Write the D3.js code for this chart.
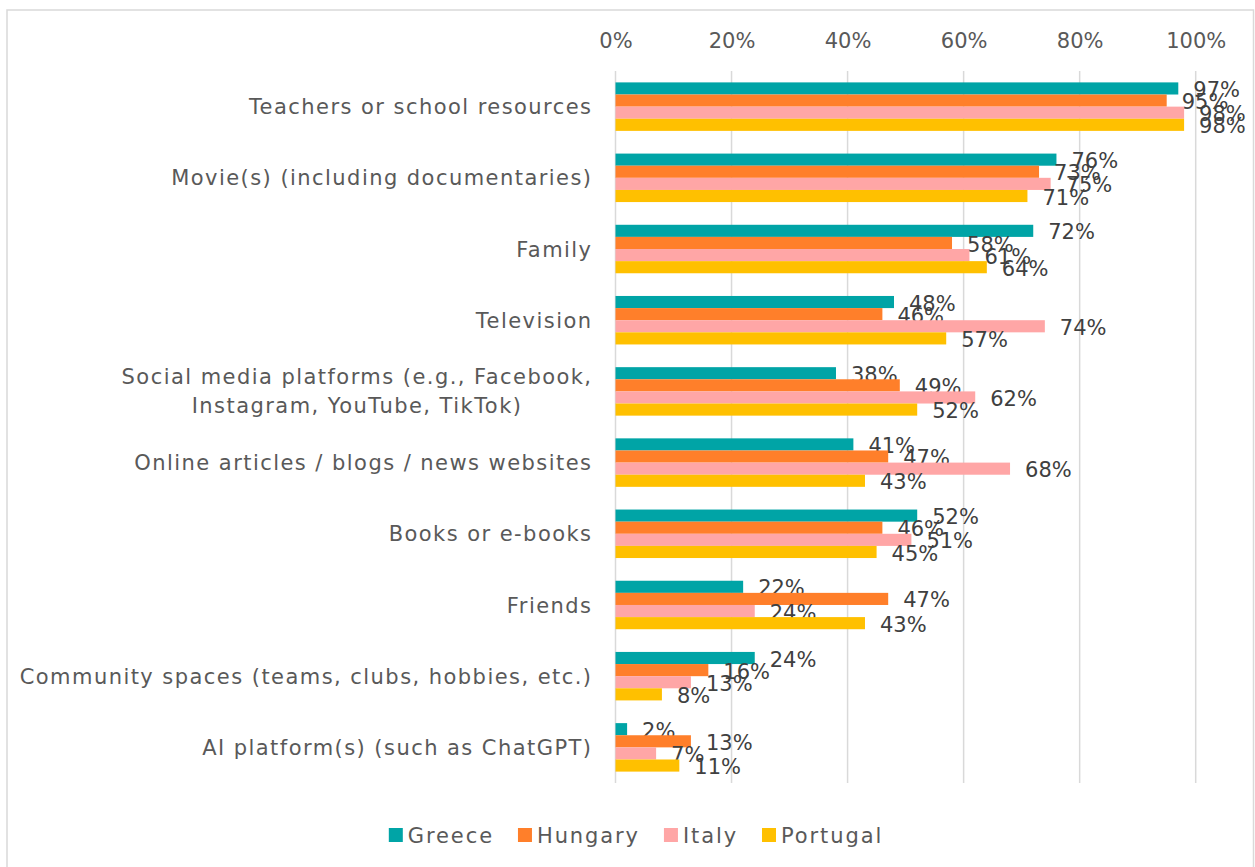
<!DOCTYPE html>
<html>
<head>
<meta charset="utf-8">
<script src="https://cdn.jsdelivr.net/npm/d3@7"></script>
<style>
  html, body { margin: 0; padding: 0; background: #ffffff; }
  svg { display: block; font-family: "DejaVu Sans", sans-serif; }
</style>
</head>
<body>
<svg id="chart" width="1255" height="867"></svg>
<script>
// Information sources, share of respondents per country (%)
const categories = [
  "Teachers or school resources",
  "Movie(s) (including documentaries)",
  "Family",
  "Television",
  "Social media platforms (e.g., Facebook,\nInstagram, YouTube, TikTok)",
  "Online articles / blogs / news websites",
  "Books or e-books",
  "Friends",
  "Community spaces (teams, clubs, hobbies, etc.)",
  "AI platform(s) (such as ChatGPT)"
];
const seriesNames = ["Greece", "Hungary", "Italy", "Portugal"];
const greece   = [97, 76, 72, 48, 38, 41, 52, 22, 24, 2];
const hungary  = [95, 73, 58, 46, 49, 47, 46, 47, 16, 13];
const italy    = [98, 75, 61, 74, 62, 68, 51, 24, 13, 7];
const portugal = [98, 71, 64, 57, 52, 43, 45, 43, 8, 11];
const xTicks = [0, 20, 40, 60, 80, 100];

const seriesValues = [greece, hungary, italy, portugal];
const colors = ["#00A4A6", "#FF7F2A", "#FFA6A6", "#FFC000"];

const svg = d3.select("#chart");
const W = 1255, H = 867;

// outer chart frame
svg.append("rect")
  .attr("x", 7).attr("y", 10)
  .attr("width", W - 8.5).attr("height", H + 10)
  .attr("fill", "#ffffff")
  .attr("stroke", "#D9D9D9").attr("stroke-width", 1.5);

const x = d3.scaleLinear().domain([0, 100]).range([615.5, 1195.7]);
const y = d3.scaleBand().domain(d3.range(categories.length))
  .range([71, 783]).paddingInner(0.319).paddingOuter(0.16);
const ySeries = d3.scaleBand().domain(d3.range(seriesNames.length))
  .range([0, y.bandwidth()]);

// vertical gridlines
svg.append("g").selectAll("line").data(xTicks).join("line")
  .attr("x1", d => x(d)).attr("x2", d => x(d))
  .attr("y1", 71).attr("y2", 783)
  .attr("stroke", "#D9D9D9").attr("stroke-width", 1.5);

// top axis tick labels
const xAxis = d3.axisTop(x).tickValues(xTicks).tickSize(0).tickPadding(0)
  .tickFormat(d => d + "%");
const gx = svg.append("g").attr("transform", "translate(0,48)").call(xAxis);
gx.select(".domain").remove();
gx.selectAll("text")
  .attr("font-family", "DejaVu Sans, sans-serif")
  .attr("font-size", 21).attr("fill", "#595959");

// category labels (multi-line labels are centered within their block)
const catG = svg.append("g");
const catRight = 592.5;
categories.forEach((c, i) => {
  const lines = c.split("\n");
  const cy = y(i) + y.bandwidth() / 2;
  const lh = 29;
  const t = catG.append("text")
    .attr("font-size", 21).attr("fill", "#595959")
    .attr("letter-spacing", 1.45);
  lines.forEach((ln, j) => {
    t.append("tspan").text(ln)
      .attr("y", cy + (j - (lines.length - 1) / 2) * lh)
      .attr("dy", "0.36em");
  });
  if (lines.length === 1) {
    t.attr("text-anchor", "end");
    t.selectAll("tspan").attr("x", catRight);
  } else {
    const widths = [];
    t.selectAll("tspan").each(function () { widths.push(this.getComputedTextLength()); });
    const mw = d3.max(widths);
    t.attr("text-anchor", "middle");
    t.selectAll("tspan").attr("x", catRight - mw / 2);
  }
});

// bars and value labels
seriesNames.forEach((s, si) => {
  const g = svg.append("g");
  const vals = seriesValues[si];
  g.selectAll("rect").data(vals).join("rect")
    .attr("x", x(0))
    .attr("y", (d, i) => y(i) + ySeries(si))
    .attr("width", d => x(d) - x(0))
    .attr("height", ySeries.bandwidth())
    .attr("fill", colors[si]);
  g.selectAll("text").data(vals).join("text")
    .attr("x", d => x(d) + 15)
    .attr("y", (d, i) => y(i) + ySeries(si) + ySeries.bandwidth() / 2 + 1)
    .attr("dy", "0.36em")
    .attr("font-size", 21).attr("fill", "#404040")
    .text(d => d + "%");
});

// legend
const legend = svg.append("g");
let cursor = 0;
seriesNames.forEach((s, i) => {
  const it = legend.append("g");
  it.append("rect").attr("x", 0).attr("y", -7).attr("width", 14).attr("height", 14)
    .attr("fill", colors[i]);
  const tx = it.append("text").attr("x", 19).attr("y", 0).attr("dy", "0.36em")
    .attr("font-size", 21).attr("fill", "#595959")
    .attr("letter-spacing", 1.9).text(s);
  const w = 19 + tx.node().getComputedTextLength();
  it.attr("transform", `translate(${cursor},0)`);
  cursor += w + 24;
});
const totalW = cursor - 24;
legend.attr("transform", `translate(${636 - totalW / 2},835)`);
</script>
</body>
</html>
